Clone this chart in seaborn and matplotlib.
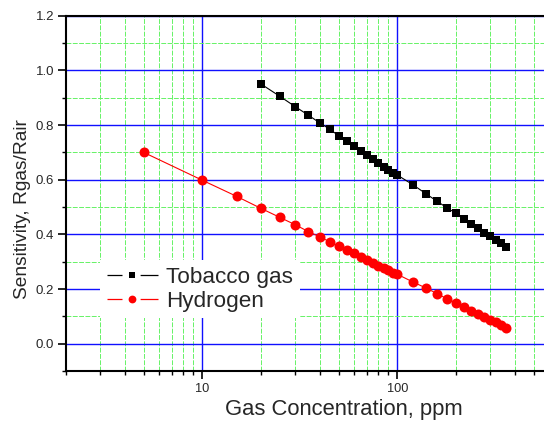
import matplotlib
matplotlib.use("Agg")
import matplotlib.pyplot as plt
import matplotlib.ticker as mticker
from matplotlib.lines import Line2D
from matplotlib.legend_handler import HandlerTuple
import seaborn as sns
import pandas as pd

# ---- data ----
tobacco_x = [20, 25, 30, 35, 40, 45, 50, 55, 60, 65, 70, 75, 80, 85, 90, 95, 100,
             120, 140, 160, 180, 200, 220, 240, 260, 280, 300, 320, 340, 360]
tobacco_y = [0.950, 0.905, 0.867, 0.836, 0.808, 0.785, 0.761, 0.742, 0.723, 0.706,
             0.690, 0.675, 0.661, 0.648, 0.636, 0.624, 0.617,
             0.582, 0.549, 0.521, 0.497, 0.477, 0.455, 0.438, 0.422, 0.405,
             0.393, 0.380, 0.367, 0.355]

hydrogen_x = [5, 10, 15, 20, 25, 30, 35, 40, 45, 50, 55, 60, 65, 70, 75, 80, 85, 90, 95, 100,
              120, 140, 160, 180, 200, 220, 240, 260, 280, 300, 320, 340, 360]
hydrogen_y = [0.700, 0.598, 0.539, 0.495, 0.462, 0.435, 0.410, 0.391, 0.373, 0.356,
              0.342, 0.330, 0.317, 0.306, 0.295, 0.286, 0.277, 0.268, 0.260, 0.254,
              0.226, 0.204, 0.183, 0.164, 0.149, 0.134, 0.120, 0.110, 0.098,
              0.088, 0.079, 0.069, 0.059]

series_names = ["Tobacco gas", "Hydrogen"]
series_colors = ["black", "red"]
series_markers = ["s", "o"]
x_label = "Gas Concentration, ppm"
y_label = "Sensitivity, Rgas/Rair"

df = pd.concat([
    pd.DataFrame({"x": tobacco_x, "y": tobacco_y, "gas": series_names[0]}),
    pd.DataFrame({"x": hydrogen_x, "y": hydrogen_y, "gas": series_names[1]}),
])

sns.set_style("white")
plt.rcParams["font.family"] = ["Liberation Sans", "DejaVu Sans"]

fig = plt.figure(figsize=(5.44, 4.21), dpi=100)
ax = fig.add_axes([66 / 544, 50 / 421, 483 / 544, 355.3 / 421])

sns.lineplot(data=df, x="x", y="y", hue="gas", style="gas",
             palette=dict(zip(series_names, series_colors)),
             markers=dict(zip(series_names, series_markers)),
             dashes=False, sort=False, estimator=None, legend=False,
             linewidth=0.8, markeredgewidth=0, ax=ax, zorder=5)
for line, ms in zip(ax.lines, [6.0, 7.2]):
    line.set_markersize(ms)

ax.set_xscale("log")
ax.set_xlim(2, 600)
ax.set_ylim(-0.1, 1.2)

ax.xaxis.set_major_locator(mticker.LogLocator(base=10, numticks=10))
ax.xaxis.set_minor_locator(mticker.LogLocator(base=10, subs=range(2, 10), numticks=20))
ax.xaxis.set_major_formatter(mticker.FuncFormatter(lambda v, p: f"{v:g}"))
ax.xaxis.set_minor_formatter(mticker.NullFormatter())
ax.yaxis.set_major_locator(mticker.MultipleLocator(0.2))
ax.yaxis.set_minor_locator(mticker.MultipleLocator(0.1))
ax.yaxis.set_major_formatter(mticker.FormatStrFormatter("%.1f"))

ax.grid(which="major", color="#1010ff", linewidth=1.0, linestyle="-", zorder=1)
ax.grid(which="minor", color="#66f266", linewidth=0.7, linestyle=(0, (5, 1.5)), zorder=1)
ax.set_axisbelow(True)

ax.tick_params(axis="both", which="major", direction="out", length=5.5, width=1.2,
               color="black", bottom=True, left=True)
ax.tick_params(axis="both", which="minor", direction="out", length=3, width=1.0,
               color="black", bottom=True, left=True)
ax.tick_params(axis="y", labelsize=9.5, pad=3)
ax.tick_params(axis="x", labelsize=9.2, pad=3.5)

for s in ["left", "bottom", "top", "right"]:
    ax.spines[s].set_visible(True)
    ax.spines[s].set_color("black")
    ax.spines[s].set_linewidth(1.5)

ax.set_xlabel(x_label, fontsize=15.8)
ax.xaxis.set_label_coords((344 - 66) / 483, -(398.5 - 371) / 355.3)
ax.set_ylabel(y_label, fontsize=13.8)
ax.yaxis.set_label_coords((31 - 66) / 483, (371 - 209.5) / 355.3)

# legend handles: line segments with a gap around a small marker
handles = []
for c, m, ms in zip(series_colors, series_markers, [4.0, 5.6]):
    seg = Line2D([], [], color=c, linewidth=0.9, linestyle=(0, (12, 14.5, 12.5, 0)))
    mk = Line2D([], [], color=c, marker=m, markersize=ms, markeredgewidth=0, linestyle="none")
    handles.append((seg, mk))

leg = ax.legend(handles=handles, labels=series_names,
                handler_map={tuple: HandlerTuple(ndivide=1, pad=0)},
                loc="upper left", bbox_to_anchor=(0.070, 0.312), fontsize=16.2,
                frameon=True, fancybox=False, framealpha=1, edgecolor="white",
                handlelength=2.3, borderpad=0.3, labelspacing=0.12, handletextpad=0.35,
                borderaxespad=0)
leg.get_frame().set_linewidth(0)
leg.set_zorder(10)

fig.savefig("out.png", dpi=100)
